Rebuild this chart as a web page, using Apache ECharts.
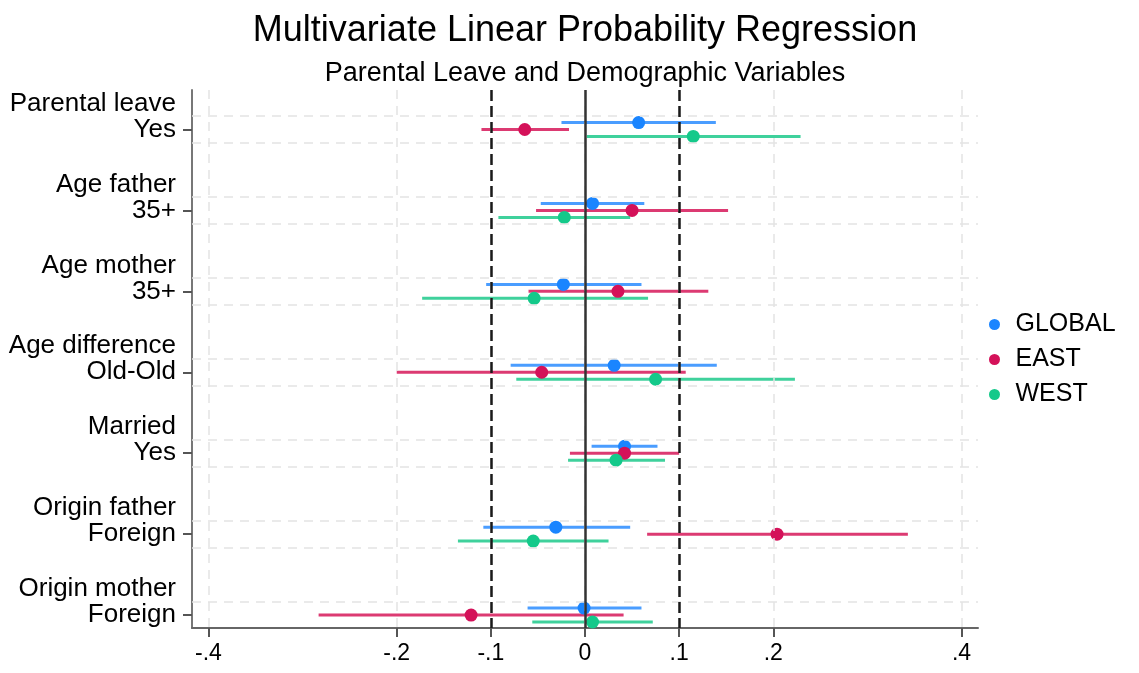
<!DOCTYPE html>
<html>
<head>
<meta charset="utf-8">
<script src="https://cdn.jsdelivr.net/npm/echarts@6/dist/echarts.min.js"></script>
<style>
  html, body { margin: 0; padding: 0; background: #fff; }
  #chart { width: 1139px; height: 673px; }
</style>
</head>
<body>
<div id="chart"></div>
<script>
// variables, top to bottom
let categories = [
  'Parental leave\nYes',
  'Age father\n35+',
  'Age mother\n35+',
  'Age difference\nOld-Old',
  'Married\nYes',
  'Origin father\nForeign',
  'Origin mother\nForeign'
]
let groups = ['GLOBAL', 'EAST', 'WEST']

// point estimates and confidence bounds, one value per variable
let globalCoef = [0.057, 0.008, -0.023, 0.031, 0.042, -0.031, -0.001]
let globalLow  = [-0.025, -0.047, -0.105, -0.079, 0.007, -0.108, -0.061]
let globalHigh = [0.139, 0.063, 0.060, 0.140, 0.077, 0.048, 0.060]

let eastCoef = [-0.064, 0.050, 0.035, -0.046, 0.042, 0.204, -0.121]
let eastLow  = [-0.110, -0.052, -0.060, -0.200, -0.016, 0.066, -0.283]
let eastHigh = [-0.017, 0.152, 0.131, 0.107, 0.100, 0.343, 0.041]

let westCoef = [0.115, -0.022, -0.054, 0.075, 0.033, -0.055, 0.008]
let westLow  = [0.002, -0.092, -0.173, -0.073, -0.018, -0.135, -0.056]
let westHigh = [0.229, 0.048, 0.067, 0.223, 0.085, 0.025, 0.072]

let xTicks = [-0.4, -0.2, -0.1, 0, 0.1, 0.2, 0.4]
let xTickLabels = ['-.4', '-.2', '-.1', '0', '.1', '.2', '.4']
let refLines = [-0.1, 0.1]

let colors = {GLOBAL: '#1a85ff', EAST: '#d41159', WEST: '#14c98a'}
let lineColors = {GLOBAL: '#4a9dff', EAST: '#dc3a72', WEST: '#3fd19c'}
let offsets = {GLOBAL: -0.086, EAST: 0, WEST: 0.086}
let allData = {
  GLOBAL: [globalCoef, globalLow, globalHigh],
  EAST: [eastCoef, eastLow, eastHigh],
  WEST: [westCoef, westLow, westHigh]
}

let font = '"Liberation Sans", Arial, sans-serif'

let series = []

// grid lines (vertical at ticks, horizontal around each variable)
let gridMarks = []
xTicks.forEach(v => gridMarks.push({xAxis: v}))
categories.forEach((c, i) => {
  gridMarks.push({yAxis: i - 0.167})
  gridMarks.push({yAxis: i + 0.167})
})
series.push({
  type: 'line',
  data: [],
  silent: true,
  markLine: {
    silent: true,
    symbol: 'none',
    animation: false,
    label: {show: false},
    lineStyle: {color: '#e4e4e4', type: [9, 7], width: 1.5},
    data: gridMarks
  }
})

groups.forEach(g => {
  let d = allData[g]
  let ciData = d[0].map((v, i) => [d[1][i], d[2][i], i + offsets[g]])
  series.push({
    name: g,
    type: 'custom',
    itemStyle: {color: colors[g]},
    renderItem: function (params, api) {
      let p1 = api.coord([api.value(0), api.value(2)])
      let p2 = api.coord([api.value(1), api.value(2)])
      return {
        type: 'line',
        shape: {x1: p1[0], y1: p1[1], x2: p2[0], y2: p2[1]},
        style: {stroke: lineColors[g], lineWidth: 3}
      }
    },
    encode: {x: [0, 1], y: 2},
    data: ciData,
    animation: false
  })
})

groups.forEach(g => {
  let d = allData[g]
  series.push({
    name: g,
    type: 'scatter',
    symbol: 'circle',
    symbolSize: 13,
    itemStyle: {color: colors[g], opacity: 1},
    data: d[0].map((v, i) => [v, i + offsets[g]]),
    animation: false
  })
})

// reference lines at -.1, 0, .1
series.push({
  type: 'line',
  data: [],
  silent: true,
  z: 5,
  markLine: {
    silent: true,
    symbol: 'none',
    animation: false,
    label: {show: false},
    data: refLines.map(v => ({xAxis: v, lineStyle: {color: '#1a1a1a', type: [11, 5], width: 2.5}}))
      .concat([{xAxis: 0, lineStyle: {color: '#333', type: 'solid', width: 2.5}}])
  }
})

let option = {
  backgroundColor: '#fff',
  title: [
    {
      text: 'Multivariate Linear Probability Regression',
      left: 580,
      top: 8,
      textAlign: 'center',
      textStyle: {fontFamily: font, fontSize: 36, fontWeight: 'normal', color: '#000'}
    },
    {
      text: 'Parental Leave and Demographic Variables',
      left: 580,
      top: 55,
      textAlign: 'center',
      textStyle: {fontFamily: font, fontSize: 27, fontWeight: 'normal', color: '#000'}
    }
  ],
  legend: {
    orient: 'vertical',
    left: 984,
    top: 307,
    icon: 'circle',
    itemWidth: 32,
    itemHeight: 11,
    itemGap: 10,
    data: groups,
    textStyle: {fontFamily: font, fontSize: 25, color: '#000'}
  },
  grid: {left: 192, right: 161, top: 90, bottom: 45, containLabel: false},
  xAxis: {
    type: 'value',
    min: -0.4175,
    max: 0.4175,
    axisLine: {show: true, onZero: false, lineStyle: {color: '#666', width: 2}},
    axisTick: {show: true, length: 9, customValues: xTicks, lineStyle: {color: '#555', width: 2}},
    axisLabel: {
      customValues: xTicks,
      margin: 14,
      fontFamily: font,
      fontSize: 23,
      color: '#000',
      formatter: function (v) {
        let idx = xTicks.findIndex(t => Math.abs(t - v) < 1e-9)
        return idx >= 0 ? xTickLabels[idx] : ''
      }
    },
    splitLine: {show: false}
  },
  yAxis: {
    type: 'value',
    inverse: true,
    min: -0.488,
    max: 6.16,
    axisLine: {show: true, onZero: false, lineStyle: {color: '#777', width: 2}},
    axisTick: {show: true, length: 9, customValues: [0, 1, 2, 3, 4, 5, 6], lineStyle: {color: '#555', width: 2}},
    axisLabel: {
      customValues: [0, 1, 2, 3, 4, 5, 6],
      margin: 16,
      fontFamily: font,
      fontSize: 26,
      lineHeight: 26,
      color: '#000',
      align: 'right',
      verticalAlign: 'middle',
      formatter: function (v) {
        // trailing empty line keeps the second line centred on the tick
        return (categories[Math.round(v)] || '') + '\n '
      }
    },
    splitLine: {show: false}
  },
  series: series
}

let myChart = echarts.init(document.getElementById('chart'), null, {renderer: 'canvas'})
myChart.setOption(option)
</script>
</body>
</html>
